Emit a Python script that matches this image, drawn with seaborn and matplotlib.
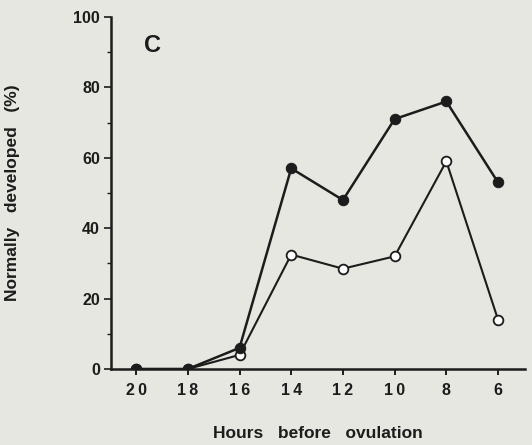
import numpy as np
import pandas as pd
import matplotlib
matplotlib.use("Agg")
import matplotlib.pyplot as plt
import seaborn as sns
from matplotlib.ticker import MultipleLocator

# --- data ---
hours = [20, 18, 16, 14, 12, 10, 8, 6]
filled_pct = [0, 0, 6, 57, 48, 71, 76, 53]
open_pct = [0, 0, 4, 32.5, 28.5, 32, 59, 14]
x_ticks = [20, 18, 16, 14, 12, 10, 8, 6]
y_ticks = [0, 20, 40, 60, 80, 100]

BG = "#e7e7e1"
INK = "#1c1c1c"

sns.set_style("ticks")
plt.rcParams["font.family"] = ["Liberation Sans", "DejaVu Sans"]

fig = plt.figure(figsize=(5.32, 4.45), dpi=100, facecolor=BG)
ax = fig.add_axes([0.2087, 0.1708, 0.778, 0.791])
ax.set_facecolor(BG)

df = pd.DataFrame({"hours": hours, "filled": filled_pct, "open": open_pct})

# open circles first so filled ones sit on top at the zero points
sns.lineplot(data=df, x="hours", y="open", ax=ax, color=INK, linewidth=1.5,
             marker="o", markersize=7, markerfacecolor="white",
             markeredgecolor=INK, markeredgewidth=1.3, zorder=3)
sns.lineplot(data=df, x="hours", y="filled", ax=ax, color=INK, linewidth=1.8,
             marker="o", markersize=7.5, markerfacecolor=INK,
             markeredgecolor=INK, zorder=4)

ax.set_xlim(20.97, 4.96)
ax.set_ylim(0, 100)
ax.set_xticks(x_ticks)
ax.set_xticklabels(["\u2009".join(str(v)) for v in x_ticks], fontsize=11.5,
                   fontweight="bold", color=INK)
ax.set_yticks(y_ticks)
ax.set_yticklabels([str(v) for v in y_ticks], fontsize=11.5, fontweight="bold", color=INK)
ax.yaxis.set_minor_locator(MultipleLocator(10))

for s in ["top", "right"]:
    ax.spines[s].set_visible(False)
for s in ["left", "bottom"]:
    ax.spines[s].set_color(INK)
    ax.spines[s].set_linewidth(1.8)

ax.tick_params(axis="y", which="major", length=5, width=1.2, color=INK, pad=3)
ax.tick_params(axis="y", which="minor", length=3, width=1.0, color=INK)
ax.tick_params(axis="x", which="major", length=4, width=1.4, color=INK, pad=6)

ax.set_xlabel("Hours   before   ovulation", fontsize=12.5, fontweight="bold",
              color=INK, labelpad=20)
ax.set_ylabel("Normally   developed   (%)", fontsize=12.5, fontweight="bold",
              color=INK, labelpad=38)

ax.text(0.099, 0.92, "C", transform=ax.transAxes, fontsize=17,
        fontweight="bold", color=INK, ha="center", va="center")

fig.savefig("out.png", dpi=100, facecolor=BG)
